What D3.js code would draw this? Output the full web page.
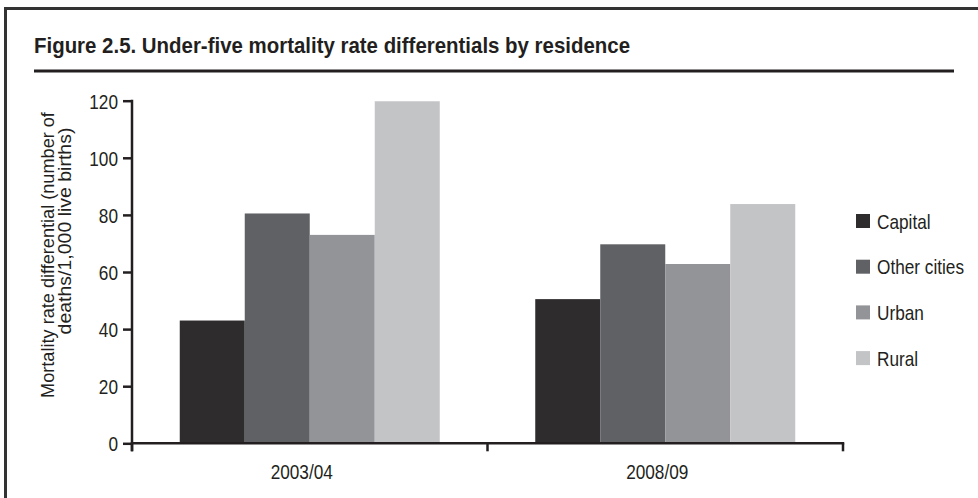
<!DOCTYPE html>
<html>
<head>
<meta charset="utf-8">
<script src="https://cdn.jsdelivr.net/npm/d3@7/dist/d3.min.js"></script>
<style>
  html, body { margin: 0; padding: 0; background: #fff; }
  svg { display: block; }
  text { font-family: "Liberation Sans", Arial, Helvetica, sans-serif; fill: #231f20; }
</style>
</head>
<body>
<svg id="chart" width="978" height="498"></svg>
<script>
const title = "Figure 2.5. Under-five mortality rate differentials by residence";
const periods = ["2003/04", "2008/09"];
const series = ["Capital", "Other cities", "Urban", "Rural"];
const capital = [43, 50.5];
const otherCities = [80.5, 69.7];
const urban = [73, 62.8];
const rural = [119.8, 83.8];
const yTicks = [0, 20, 40, 60, 80, 100, 120];
const yLabelLines = ["Mortality rate differential (number of", "deaths/1,000 live births)"];
const colors = ["#2e2c2d", "#606165", "#939498", "#c3c4c6"];

const values = [capital, otherCities, urban, rural];
const data = periods.map((p, i) => ({ period: p, vals: series.map((s, j) => ({ key: s, value: values[j][i] })) }));

const svg = d3.select("#chart");
const ink = "#231f20";
const narrow = 0.82; // imitate a narrow typeface

// frame (top + left)
svg.append("line").attr("x1", 5).attr("x2", 978).attr("y1", 8.5).attr("y2", 8.5)
  .attr("stroke", "#333").attr("stroke-width", 3);
svg.append("line").attr("x1", 5.5).attr("x2", 5.5).attr("y1", 7).attr("y2", 498)
  .attr("stroke", "#333").attr("stroke-width", 3);

// title
svg.append("text").attr("transform", `translate(34,53) scale(0.86,1)`)
  .attr("font-size", 22).attr("font-weight", "bold")
  .text(title)
  .each(function () {
    const len = this.getComputedTextLength();
    d3.select(this).attr("transform", `translate(34,53) scale(${596 / len},1)`);
  });
svg.append("line").attr("x1", 34).attr("x2", 954).attr("y1", 71).attr("y2", 71)
  .attr("stroke", ink).attr("stroke-width", 3);

// scales
const x0 = d3.scaleBand().domain(periods).range([132, 843]).padding(0);
const bw = x0.bandwidth();
const groupW = 260;
const x1 = d3.scaleBand().domain(series).range([(bw - groupW) / 2, (bw + groupW) / 2]).padding(0);
const y = d3.scaleLinear().domain([0, 120]).range([443.3, 100.7]);
const color = d3.scaleOrdinal().domain(series).range(colors);

// bars
const g = svg.append("g");
g.selectAll("g.grp").data(data).join("g").attr("class", "grp")
  .attr("transform", d => `translate(${x0(d.period)},0)`)
  .selectAll("rect").data(d => d.vals).join("rect")
  .attr("x", d => x1(d.key))
  .attr("width", x1.bandwidth())
  .attr("y", d => y(d.value))
  .attr("height", d => y(0) - y(d.value))
  .attr("fill", d => color(d.key));

// y axis
const yAxis = svg.append("g").attr("transform", "translate(132,0)")
  .call(d3.axisLeft(y).tickValues(yTicks).tickSize(9).tickPadding(5).tickSizeOuter(0));
yAxis.select(".domain").remove();
yAxis.selectAll(".tick line").attr("stroke", ink).attr("stroke-width", 2.5);
yAxis.selectAll(".tick text").attr("font-size", 21).attr("font-family", null).attr("fill", ink)
  .attr("dy", "0.36em")
  .attr("transform", function () { return `translate(${+d3.select(this).attr("x")},0) scale(${narrow},1) translate(${-d3.select(this).attr("x")},0)`; });
svg.append("line").attr("x1", 132).attr("x2", 132).attr("y1", y(120) - 1).attr("y2", y(0) + 8)
  .attr("stroke", ink).attr("stroke-width", 2.5);

// x axis
svg.append("line").attr("x1", 130.75).attr("x2", 844.25).attr("y1", y(0)).attr("y2", y(0))
  .attr("stroke", ink).attr("stroke-width", 2.5);
const xTicksPos = [x0.range()[0], ...periods.slice(1).map(p => x0(p)), x0.range()[1]];
svg.selectAll("line.xt").data(xTicksPos).join("line").attr("class", "xt")
  .attr("x1", d => d).attr("x2", d => d).attr("y1", y(0)).attr("y2", y(0) + 8)
  .attr("stroke", ink).attr("stroke-width", 2.5);
svg.selectAll("text.xl").data(periods).join("text").attr("class", "xl")
  .attr("transform", d => `translate(${x0(d) + bw / 2 - 8},479) scale(${narrow},1)`)
  .attr("text-anchor", "middle").attr("font-size", 21)
  .text(d => d);

// y label
const yl = [{ t: yLabelLines[0], x: 54, c: 255, w: 286 }, { t: yLabelLines[1], x: 71, c: 231, w: 207 }];
svg.selectAll("text.yl").data(yl).join("text").attr("class", "yl")
  .attr("text-anchor", "middle").attr("font-size", 19)
  .text(d => d.t)
  .each(function (d) {
    const len = this.getComputedTextLength();
    d3.select(this).attr("transform", `translate(${d.x},${d.c}) rotate(-90) scale(${d.w / len},1)`);
  });

// legend
const leg = svg.append("g").attr("transform", "translate(856,214)");
const li = leg.selectAll("g").data(series).join("g")
  .attr("transform", (d, i) => `translate(0,${i * 45.7})`);
li.append("rect").attr("width", 14).attr("height", 14).attr("fill", d => color(d));
li.append("text").attr("transform", `translate(21,14.5) scale(${narrow},1)`)
  .attr("font-size", 21).text(d => d);
</script>
</body>
</html>
